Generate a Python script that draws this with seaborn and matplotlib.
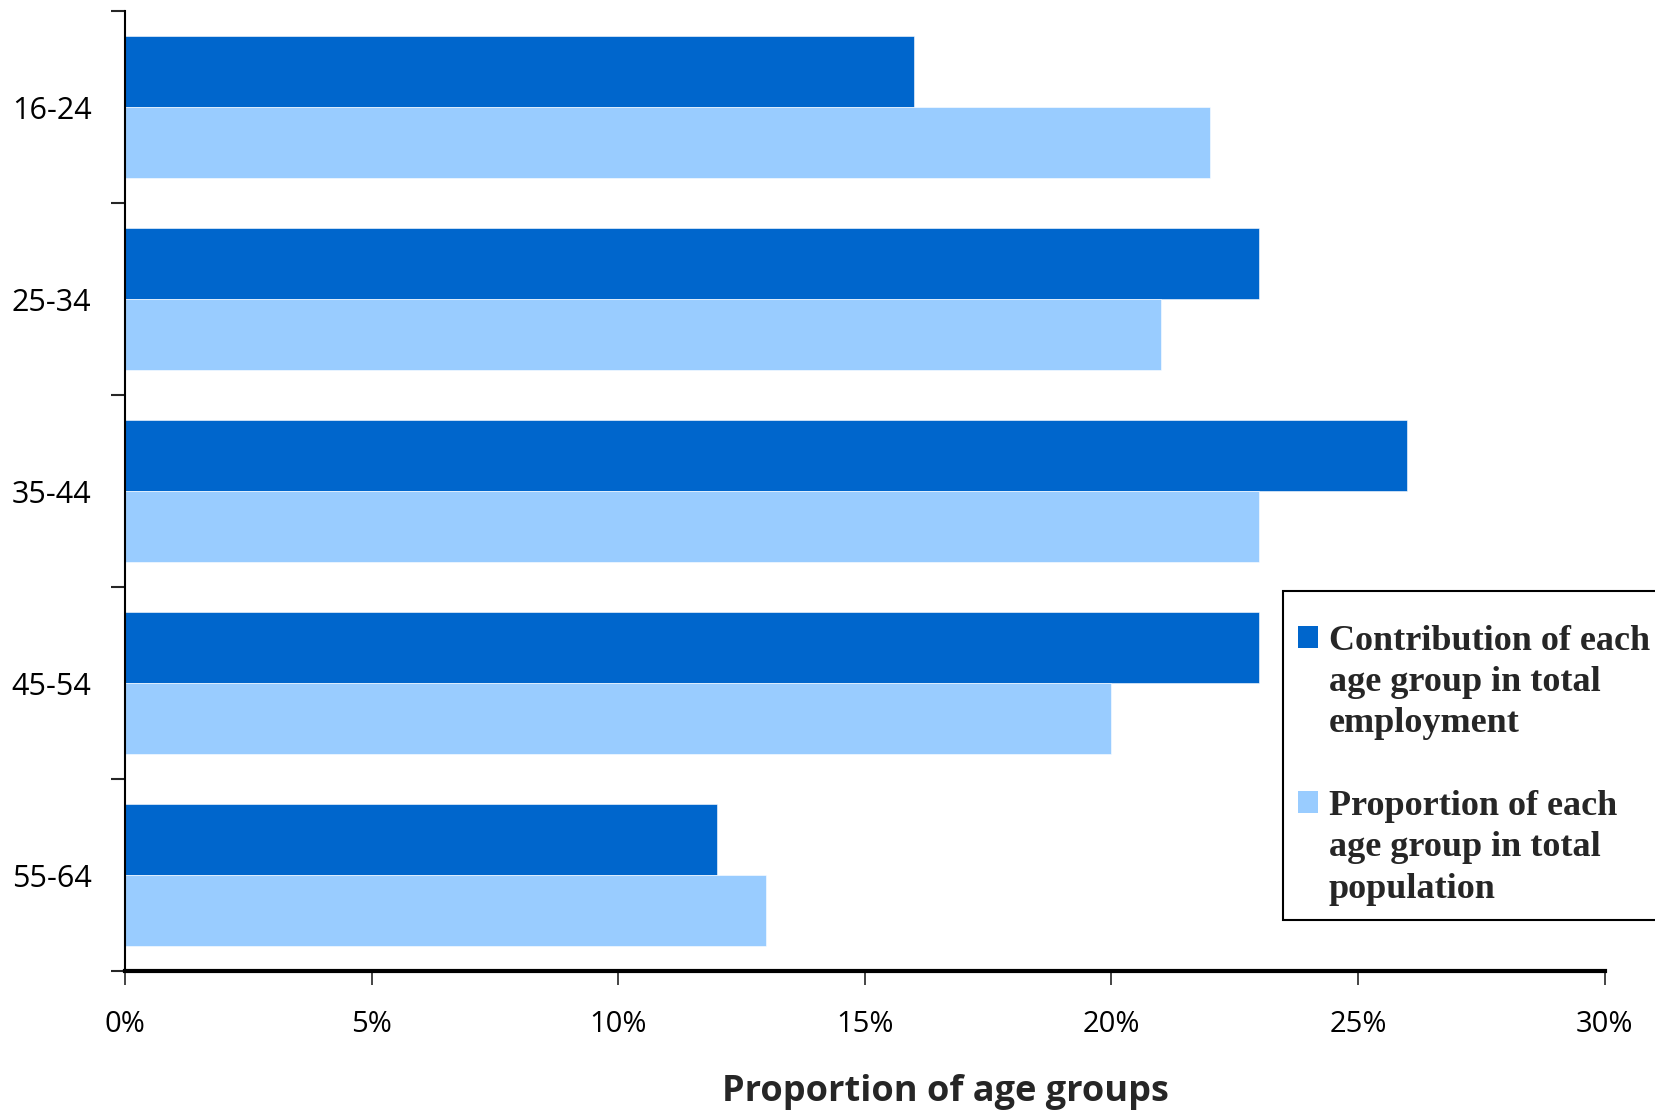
import pandas as pd
import seaborn as sns
import matplotlib.pyplot as plt
from matplotlib.patches import Patch
from matplotlib.ticker import FixedLocator, PercentFormatter

age_groups = ['16-24', '25-34', '35-44', '45-54', '55-64']
employment = [16, 23, 26, 23, 12]
population = [22, 21, 23, 20, 13]
series_names = ['Contribution of each age group in total employment',
                'Proportion of each age group in total population']
legend_lines = [['Contribution of each', 'age group in total', 'employment'],
                ['Proportion of each', 'age group in total', 'population']]
xticks = [0, 5, 10, 15, 20, 25, 30]
colors = ['#0066CC', '#99CCFF']

df = pd.DataFrame({
    'Age group': age_groups * 2,
    'Value': employment + population,
    'Series': [series_names[0]] * len(age_groups) + [series_names[1]] * len(age_groups),
})

sns.set_style("white")
plt.rcParams['font.family'] = ['Open Sans', 'DejaVu Sans']

fig = plt.figure(figsize=(16.55, 11.14), dpi=100)
ax = fig.add_axes([0.0755, 0.128, 0.894, 0.862])

sns.barplot(data=df, y='Age group', x='Value', hue='Series', orient='h',
            palette=colors, width=0.74, saturation=1,
            edgecolor='white', linewidth=0.4, ax=ax, legend=False)

ax.set_xlim(0, 30)
ax.set_ylim(len(age_groups) - 0.5, -0.5)
ax.xaxis.set_major_locator(FixedLocator(xticks))
ax.xaxis.set_major_formatter(PercentFormatter(decimals=0))

# category boundaries get the tick marks, labels sit in the middle
ax.set_yticks([i - 0.5 for i in range(len(age_groups) + 1)])
ax.set_yticklabels([])
ax.set_yticks(range(len(age_groups)), minor=True)
ax.set_yticklabels(age_groups, minor=True)
ax.tick_params(axis='y', which='minor', length=0, pad=24, labelsize=22, labelcolor='black')
ax.tick_params(axis='y', which='major', length=10, width=1.5, direction='out', left=True)
ax.tick_params(axis='x', length=10, width=1.2, direction='out', bottom=True,
               labelsize=21, labelcolor='black', pad=18)

for s in ['top', 'right']:
    ax.spines[s].set_visible(False)
ax.spines['left'].set_linewidth(1.5)
ax.spines['bottom'].set_linewidth(3)
ax.spines['left'].set_color('black')
ax.spines['bottom'].set_color('black')

ax.set_ylabel('')
ax.set_xlabel('Proportion of age groups', fontsize=26, fontweight='bold', va='center')
ax.xaxis.set_label_coords(0.5546, -0.126)

# one entry per text line so the square sits next to the first line
handles, labels = [], []
blank = Patch(facecolor='none', edgecolor='none')
for i, lines in enumerate(legend_lines):
    if i > 0:
        handles.append(blank)
        labels.append(' ')
    for j, line in enumerate(lines):
        handles.append(Patch(facecolor=colors[i], edgecolor='none') if j == 0 else blank)
        labels.append(line)

leg = fig.legend(handles, labels, loc='upper left', bbox_to_anchor=(0.7755, 0.4695),
                 frameon=True, fancybox=False, edgecolor='black', framealpha=1,
                 handlelength=0.55, handleheight=0.55, handletextpad=0.3,
                 labelspacing=0.23, borderpad=0.4, borderaxespad=0,
                 title=' ', title_fontsize=8,
                 prop={'family': 'Liberation Serif', 'weight': 'bold', 'size': 26})
leg.get_frame().set_linewidth(1.5)

fig.savefig('out.png', dpi=100)
